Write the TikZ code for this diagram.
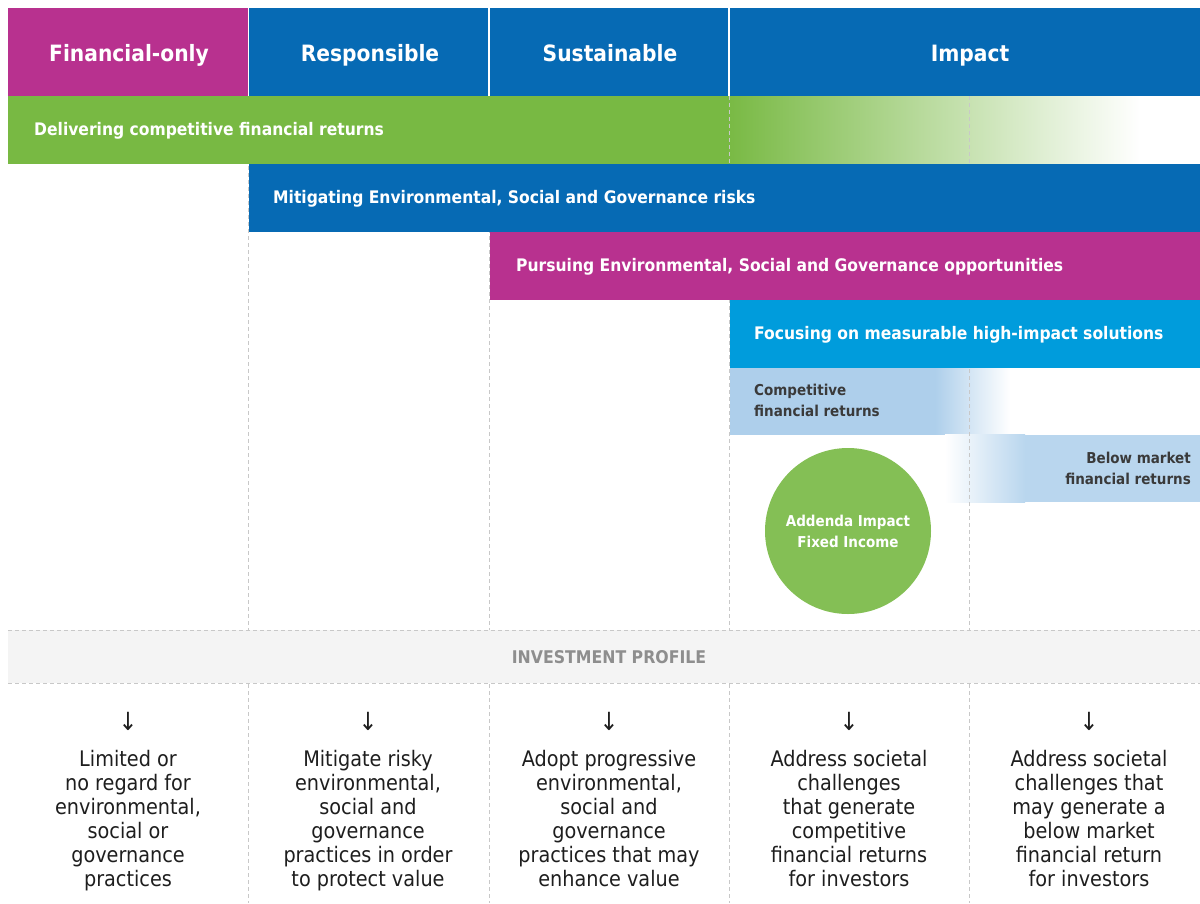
\documentclass[tikz,border=0pt]{standalone}
\usepackage{fontspec}
\setmainfont{DejaVu Sans Condensed}
\usepackage{tikz}

\definecolor{magentaA}{HTML}{B8318F}
\definecolor{blueA}{HTML}{066AB4}
\definecolor{greenA}{HTML}{78B943}
\definecolor{cyanA}{HTML}{009CDC}
\definecolor{paleA}{HTML}{AECFEB}
\definecolor{paleB}{HTML}{B9D6EE}
\definecolor{circA}{HTML}{84BF55}
\definecolor{bandA}{HTML}{F4F4F4}
\definecolor{dashA}{HTML}{C8C8C8}
\definecolor{greyA}{HTML}{8E8E8E}
\definecolor{inkA}{HTML}{1E1E1E}
\definecolor{inkB}{HTML}{3A3A3A}

\tikzset{
  head/.style={anchor=base, text=white, font=\fontsize{22.5}{26}\selectfont\bfseries},
  bartext/.style={anchor=base west, inner sep=0pt, text=white, font=\fontsize{17.3}{20}\selectfont\bfseries},
  sidetext/.style={inner sep=0pt, text=inkB, font=\fontsize{15}{21}\selectfont\bfseries},
  grid/.style={dashA, line width=1pt, dash pattern=on 4pt off 3pt},
  profile/.style={anchor=north, inner sep=0pt, align=center, text=inkA, font=\fontsize{21.4}{24}\selectfont},
}

\begin{document}
\begin{tikzpicture}[x=1pt, y=-1pt]
      \useasboundingbox (0,0) rectangle (1200,903);

      % header row
      \fill [magentaA] (8,8) rectangle (247.5,96);
      \fill [blueA] (249,8) rectangle (488,96);
      \fill [blueA] (490,8) rectangle (728,96);
      \fill [blueA] (730,8) rectangle (1200,96);
      \node[head](fin) at (129,61){Financial-only};
      \node[head](resp) at (370,61){Responsible};
      \node[head](sust) at (610,61){Sustainable};
      \node[head](imp) at (970,61){Impact};

      % fading parts
      \shade [left color=greenA, right color=white] (726,96) rectangle (1140,163.5);
      \shade [left color=paleA, right color=white] (935,367.5) rectangle (1010,434.5);
      \shade [left color=white, right color=paleB] (945,434.5) rectangle (1025,502);

      % column lines
      \foreach \x in {248.5,489,729,969}
        \draw [grid] (\x,96) -- (\x,903);

      % bars
      \fill [greenA] (8,96) rectangle (726.5,163.5);
      \fill [blueA] (249,163.5) rectangle (1200,231.5);
      \fill [magentaA] (490,231.5) rectangle (1200,299.5);
      \fill [cyanA] (730,299.5) rectangle (1200,367.5);
      \fill [paleA] (730,367.5) rectangle (935.5,434.5);
      \fill [paleB] (1024.5,434.5) rectangle (1200,502);

      \node[bartext](deliver) at (34,135){Delivering competitive financial returns};
      \node[bartext](mitig) at (273,203){Mitigating Environmental, Social and Governance risks};
      \node[bartext](pursue) at (516,271){Pursuing Environmental, Social and Governance opportunities};
      \node[bartext](focus) at (754,339){Focusing on measurable high-impact solutions};

      \node[sidetext, anchor=north west, align=left](compet) at (754,384){Competitive\\financial returns};
      \node[sidetext, anchor=north east, align=right](below) at (1191,452){Below market\\financial returns};

      \node[circle, fill=circA, minimum size=166pt, inner sep=0pt, align=center, text=white,
            font=\fontsize{15}{21}\selectfont\bfseries](fund) at (848,531){Addenda Impact\\Fixed Income};

      % investment profile band
      \fill [bandA] (8,630) rectangle (1200,683);
      \draw [grid] (8,630) -- (1200,630);
      \draw [grid] (8,683) -- (1200,683);
      \node[text=greyA, font=\fontsize{17.5}{20}\selectfont\bfseries](prof) at (609,657){INVESTMENT PROFILE};

      \foreach \c/\n in {128/a,368/b,609/c,849/d,1089/e}
        \node[text=inkA, font=\fontsize{25}{28}\selectfont](arr\n) at (\c,721){↓};

      \node[profile](pa) at (128,750){Limited or\\no regard for\\environmental,\\social or\\governance\\practices};
      \node[profile](pb) at (368,750){Mitigate risky\\environmental,\\social and\\governance\\practices in order\\to protect value};
      \node[profile](pc) at (609,750){Adopt progressive\\environmental,\\social and\\governance\\practices that may\\enhance value};
      \node[profile](pd) at (849,750){Address societal\\challenges\\that generate\\competitive\\financial returns\\for investors};
      \node[profile](pe) at (1089,750){Address societal\\challenges that\\may generate a\\below market\\financial return\\for investors};
\end{tikzpicture}
\end{document}
